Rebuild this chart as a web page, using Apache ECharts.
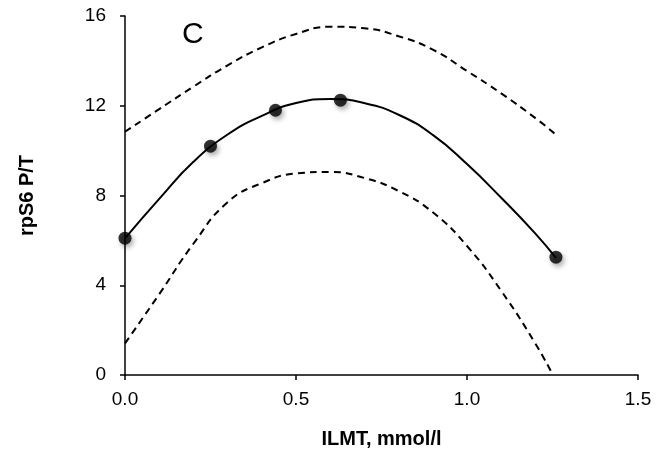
<!DOCTYPE html>
<html>
<head>
<meta charset="utf-8">
<script src="https://cdn.jsdelivr.net/npm/echarts@6/dist/echarts.min.js"></script>
<style>
  html, body { margin: 0; padding: 0; background: #fff; }
  #chart { width: 657px; height: 456px; }
</style>
</head>
<body>
<div id="chart"></div>
<script>
// Measured doses (ILMT, mmol/l) and rpS6 phospho/total ratios
const doseX = [0, 0.25, 0.44, 0.63, 1.26];
const ratioY = [6.1, 10.2, 11.8, 12.25, 5.25];

// Fitted response curve
const fitX = [0, 0.1, 0.2, 0.3, 0.4, 0.5, 0.6, 0.7, 0.8, 0.9, 1.0, 1.1, 1.2, 1.26];
const fitY = [6.09, 7.85, 9.5, 10.72, 11.55, 12.12, 12.3, 12.12, 11.6, 10.7, 9.4, 7.9, 6.3, 5.22];

// Upper confidence band
const upperX = [0, 0.1, 0.2, 0.3, 0.4, 0.5, 0.6, 0.7, 0.8, 0.9, 1.0, 1.1, 1.2, 1.261];
const upperY = [10.84, 11.85, 12.85, 13.8, 14.6, 15.2, 15.52, 15.45, 15.1, 14.5, 13.55, 12.55, 11.45, 10.7];

// Lower confidence band
const lowerX = [0, 0.1, 0.2, 0.3, 0.4, 0.5, 0.6, 0.7, 0.8, 0.9, 1.0, 1.1, 1.2, 1.251];
const lowerY = [1.41, 3.6, 5.85, 7.7, 8.55, 8.98, 9.05, 8.78, 8.2, 7.25, 5.75, 3.75, 1.4, 0.0];

// Axis ticks
const xTicks = { min: 0, max: 1.5, interval: 0.5 };
const yTicks = { min: 0, max: 16, interval: 4 };

const panelLabel = 'C';
const xTitle = 'ILMT, mmol/l';
const yTitle = 'rpS6 P/T';

const zip = (xs, ys) => xs.map((x, i) => [x, ys[i]]);

const FONT = '"Liberation Sans", Arial, Helvetica, sans-serif';
const axisCommon = {
  axisLine: { show: true, onZero: false, lineStyle: { color: '#000', width: 1.5 } },
  axisTick: { show: true, inside: false, length: 5, lineStyle: { color: '#000', width: 1.5 } },
  splitLine: { show: false },
  nameTextStyle: { fontFamily: FONT, fontWeight: 'bold', fontSize: 20, color: '#000' }
};

const chart = echarts.init(document.getElementById('chart'), null, { renderer: 'canvas' });
chart.setOption({
  animation: false,
  backgroundColor: '#fff',
  grid: {
    left: 125, right: 19, top: 16, bottom: 81,
    containLabel: false, outerBoundsMode: 'none'
  },
  xAxis: Object.assign({}, axisCommon, {
    type: 'value',
    min: xTicks.min, max: xTicks.max, interval: xTicks.interval,
    name: xTitle, nameLocation: 'middle', nameGap: 54,
    axisLabel: {
      margin: 15, fontFamily: FONT, fontSize: 19, color: '#000',
      formatter: v => v.toFixed(1)
    }
  }),
  yAxis: Object.assign({}, axisCommon, {
    type: 'value',
    min: yTicks.min, max: yTicks.max, interval: yTicks.interval,
    name: yTitle, nameLocation: 'middle', nameGap: 88, nameRotate: 90,
    axisLabel: { margin: 19, fontFamily: FONT, fontSize: 19, color: '#000' }
  }),
  graphic: [{
    type: 'text', left: 182, top: 20,
    style: { text: panelLabel, font: '30px ' + FONT, fill: '#000' }
  }],
  series: [
    {
      type: 'line', data: zip(upperX, upperY), smooth: 0.5, symbol: 'none',
      lineStyle: { color: '#000', width: 2, type: [7, 5] }, z: 2
    },
    {
      type: 'line', data: zip(lowerX, lowerY), smooth: 0.5, symbol: 'none',
      lineStyle: { color: '#000', width: 2, type: [7, 5] }, z: 2
    },
    {
      type: 'line', data: zip(fitX, fitY), smooth: 0.5, symbol: 'none',
      lineStyle: { color: '#000', width: 2 }, z: 3
    },
    {
      type: 'scatter', data: zip(doseX, ratioY), symbol: 'circle', symbolSize: 13,
      itemStyle: {
        color: '#000',
        shadowColor: 'rgba(0,0,0,0.4)', shadowBlur: 5, shadowOffsetX: 2, shadowOffsetY: 3
      },
      z: 4
    }
  ]
});
</script>
</body>
</html>
